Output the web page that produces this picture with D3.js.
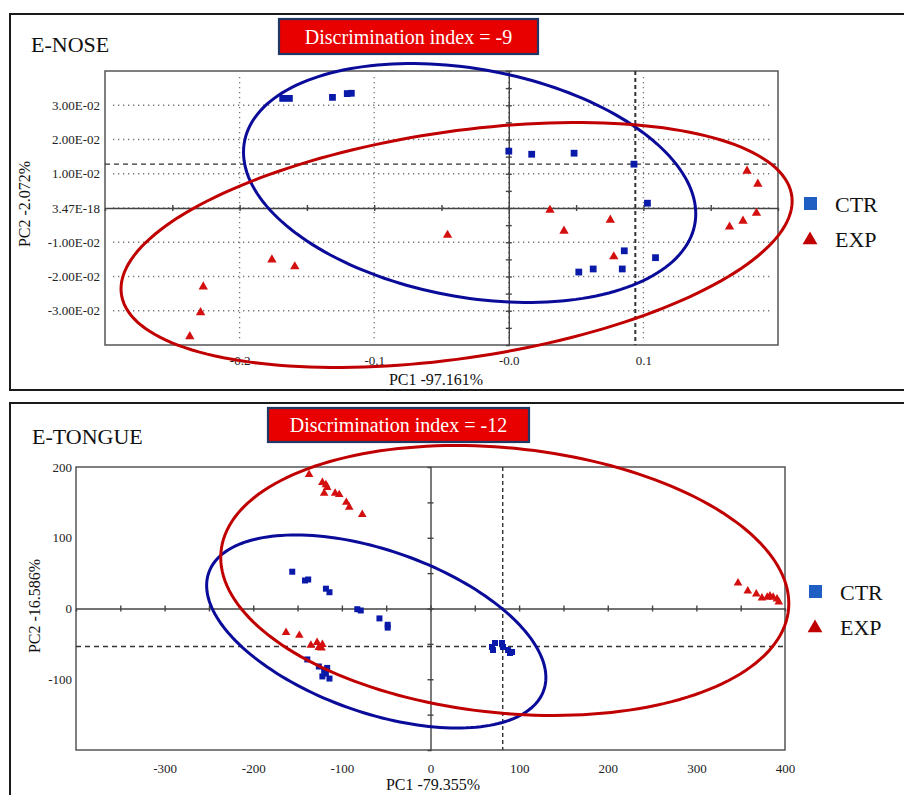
<!DOCTYPE html>
<html>
<head>
<meta charset="utf-8">
<script src="https://cdn.jsdelivr.net/npm/d3@7"></script>
<style>
  body { margin: 0; background: #fff; }
  svg { display: block; font-family: "Liberation Serif", "Times New Roman", serif; }
</style>
</head>
<body>
<div id="chart"></div>
<script>
// ---- E-NOSE data (PC1, PC2) ----
var noseCtr = [
  [-0.168, 0.0320], [-0.163, 0.0320], [-0.131, 0.0323], [-0.120, 0.0334], [-0.117, 0.0335],
  [0.000, 0.0166], [0.017, 0.0157], [0.0485, 0.0160], [0.093, 0.0128],
  [0.103, 0.0014], [0.0858, -0.0125], [0.109, -0.0145],
  [0.052, -0.0187], [0.0627, -0.0178], [0.0843, -0.0178]
];
var noseExp = [
  [-0.227, -0.0230], [-0.229, -0.0305], [-0.237, -0.0375],
  [-0.176, -0.0151], [-0.159, -0.0171], [-0.0455, -0.0079],
  [0.0306, -0.0006], [0.041, -0.0067], [0.0754, -0.0035], [0.078, -0.0142],
  [0.164, -0.0055], [0.174, -0.0038], [0.184, -0.0015], [0.177, 0.0108], [0.185, 0.0070]
];
// confidence ellipses: centre x, centre y, conjugate half-axis A (dx, dy), B (dx, dy)
var noseCtrEllipse = [-0.0291, 0.0073, 0.168, -0.0090, 0.0, 0.0337];
var noseExpEllipse = [-0.0388, -0.0108, 0.2493, 0.0128, 0.0, 0.0334];
var noseRefLines = [0.094, 0.0128];   // dashed x, dashed y
var noseXTicks = [-0.2, -0.1, 0.0, 0.1];
var noseXTickLabels = ["-0.2", "-0.1", "-0.0", "0.1"];
var noseYTicks = [0.03, 0.02, 0.01, 0, -0.01, -0.02, -0.03];
var noseYTickLabels = ["3.00E-02", "2.00E-02", "1.00E-02", "3.47E-18", "-1.00E-02", "-2.00E-02", "-3.00E-02"];

// ---- E-TONGUE data (PC1, PC2) ----
var tongueCtr = [
  [-156, 52], [-141.6, 39.6], [-138, 41], [-118, 28], [-114, 23],
  [-82.6, -1], [-78.7, -2.8], [-57.6, -14], [-48.3, -23], [-48.3, -27],
  [-139, -72], [-126, -82], [-120, -88], [-116.6, -84], [-122, -96], [-114, -99], [-118, -92],
  [69.4, -54.4], [70.5, -58.7], [72.8, -48.8], [80.7, -48.8], [81.8, -54.4],
  [87.5, -58.7], [89.7, -62.9], [92, -61.5]
];
var tongueExp = [
  [-137, 189.5], [-122, 178], [-118, 175], [-116.6, 171], [-120, 163],
  [-107.6, 163], [-103, 161], [-95, 150], [-91.7, 143], [-77, 133],
  [-163, -34], [-148, -38],
  [-135, -52], [-128, -48], [-126, -55], [-122, -51], [-123, -56],
  [347, 36], [358, 24.7], [367.6, 20.5], [374, 14.8], [380, 16],
  [383, 17.7], [386.6, 16], [391, 13.4], [393, 9.2]
];
var tongueCtrEllipse = [-61.2, -32.5, 191.4, -65, 0, 120];
var tongueExpEllipse = [83.8, 39.6, 320.5, -32.5, 0, 188];
var tongueRefLines = [81.5, -53.7];
var tongueXTicks = [-300, -200, -100, 0, 100, 200, 300, 400];
var tongueYTicks = [200, 100, 0, -100];

var width = 904;
var height = 795;

var blueDot = "#0a1aa8";
var redDot = "#d40f0f";
var blueRing = "#0b0b9a";
var redRing = "#c00000";

var svg = d3.select("#chart").append("svg")
  .attr("width", width)
  .attr("height", height);

function ellipsePoints(e) {
  var pts = [];
  for (var i = 0; i < 180; i++) {
    var t = i / 180 * 2 * Math.PI;
    pts.push([e[0] + e[2] * Math.cos(t) + e[4] * Math.sin(t),
              e[1] + e[3] * Math.cos(t) + e[5] * Math.sin(t)]);
  }
  return pts;
}

function drawPanel(p) {
  var g = svg.append("g");

  // outer frame
  g.append("rect")
    .attr("x", 10).attr("y", p.frameTop)
    .attr("width", 1000).attr("height", p.frameHeight)
    .attr("fill", "none").attr("stroke", "#1a1a1a").attr("stroke-width", 2);

  var x = d3.scaleLinear().domain(p.xDomain).range([p.left, p.right]);
  var y = d3.scaleLinear().domain(p.yDomain).range([p.bottom, p.top]);

  // dotted grid
  if (p.grid) {
    g.append("g").selectAll("line").data(p.yTicks).enter().append("line")
      .attr("x1", p.left + 8).attr("x2", p.right - 6)
      .attr("y1", d => y(d)).attr("y2", d => y(d))
      .attr("stroke", "#777").attr("stroke-width", 1.3).attr("stroke-dasharray", "1.3,3.7");
    g.append("g").selectAll("line").data(p.xTicks).enter().append("line")
      .attr("x1", d => x(d)).attr("x2", d => x(d))
      .attr("y1", p.top + 6).attr("y2", p.bottom - 4)
      .attr("stroke", "#777").attr("stroke-width", 1.3).attr("stroke-dasharray", "1.3,3.7");
  }

  // plot box
  g.append("rect")
    .attr("x", p.left).attr("y", p.top)
    .attr("width", p.right - p.left).attr("height", p.bottom - p.top)
    .attr("fill", "none").attr("stroke", "#555").attr("stroke-width", 1.5);

  // zero axes with crossing ticks
  var hAxis = g.append("g")
    .attr("transform", "translate(0," + y(0) + ")")
    .call(d3.axisBottom(x).tickValues(p.xMinor).tickSize(3).tickFormat(""));
  var vAxis = g.append("g")
    .attr("transform", "translate(" + x(0) + ",0)")
    .call(d3.axisLeft(y).tickValues(p.yMinor).tickSize(3).tickFormat(""));
  [hAxis, vAxis].forEach(function(a) {
    a.select(".domain").attr("stroke", "#444").attr("stroke-width", 1.4);
    a.selectAll(".tick line").attr("stroke", "#444").attr("stroke-width", 1.4);
  });
  hAxis.selectAll(".tick line").attr("y1", -3);
  vAxis.selectAll(".tick line").attr("x1", 3);

  // dashed reference lines
  g.append("line")
    .attr("x1", x(p.ref[0])).attr("x2", x(p.ref[0]))
    .attr("y1", p.top).attr("y2", p.bottom)
    .attr("stroke", "#333").attr("stroke-width", p.refWidth).attr("stroke-dasharray", "4,3");
  g.append("line")
    .attr("x1", p.left).attr("x2", p.right)
    .attr("y1", y(p.ref[1])).attr("y2", y(p.ref[1]))
    .attr("stroke", "#333").attr("stroke-width", 1.3).attr("stroke-dasharray", "5,4");

  // tick labels
  var xLab = g.append("g")
    .attr("transform", "translate(0," + p.bottom + ")")
    .call(d3.axisBottom(x).tickValues(p.xTicks).tickSize(0).tickPadding(p.xPad)
      .tickFormat(function(d, i) { return p.xLabels ? p.xLabels[i] : d; }));
  var yLab = g.append("g")
    .attr("transform", "translate(" + p.left + ",0)")
    .call(d3.axisLeft(y).tickValues(p.yTicks).tickSize(0).tickPadding(p.yPad)
      .tickFormat(function(d, i) { return p.yLabels ? p.yLabels[i] : d; }));
  [xLab, yLab].forEach(function(a) {
    a.select(".domain").remove();
    a.selectAll("text").attr("font-family", "Liberation Serif").attr("font-size", 13).attr("fill", "#222");
  });

  // markers
  var sq = d3.symbol().type(d3.symbolSquare).size(p.sqSize);
  var tri = d3.symbol().type(d3.symbolTriangle).size(p.triSize);
  g.append("g").selectAll("path").data(p.exp).enter().append("path")
    .attr("d", tri)
    .attr("transform", d => "translate(" + x(d[0]) + "," + y(d[1]) + ")")
    .attr("fill", redDot);
  g.append("g").selectAll("path").data(p.ctr).enter().append("path")
    .attr("d", sq)
    .attr("transform", d => "translate(" + x(d[0]) + "," + y(d[1]) + ")")
    .attr("fill", blueDot);

  // ellipses
  var line = d3.line().x(d => x(d[0])).y(d => y(d[1])).curve(d3.curveLinearClosed);
  g.append("path").attr("d", line(ellipsePoints(p.ctrEllipse)))
    .attr("fill", "none").attr("stroke", blueRing).attr("stroke-width", 3);
  g.append("path").attr("d", line(ellipsePoints(p.expEllipse)))
    .attr("fill", "none").attr("stroke", redRing).attr("stroke-width", 3);

  // title
  g.append("text").attr("x", p.titleX).attr("y", p.titleY)
    .attr("font-size", 22).attr("fill", "#111").text(p.title);

  // discrimination index box
  g.append("rect")
    .attr("x", p.box[0]).attr("y", p.box[1]).attr("width", p.box[2]).attr("height", p.box[3])
    .attr("fill", "#e80000").attr("stroke", "#1f3864").attr("stroke-width", 2.2);
  g.append("text")
    .attr("x", p.box[0] + p.box[2] / 2).attr("y", p.box[1] + p.box[3] / 2 + 7)
    .attr("text-anchor", "middle").attr("font-size", 20).attr("fill", "#fff")
    .text(p.boxText);

  // axis titles
  g.append("text").attr("x", p.xTitle[0]).attr("y", p.xTitle[1])
    .attr("text-anchor", "middle").attr("font-size", 16).attr("fill", "#111").text(p.xTitleText);
  g.append("text")
    .attr("transform", "translate(" + p.yTitle[0] + "," + p.yTitle[1] + ") rotate(-90)")
    .attr("text-anchor", "middle").attr("font-size", 16).attr("fill", "#111").text(p.yTitleText);

  // legend
  var lg = g.append("g").attr("transform", "translate(" + p.legend[0] + "," + p.legend[1] + ")");
  lg.append("rect").attr("x", -6).attr("y", -7).attr("width", 13).attr("height", 13)
    .attr("fill", "#1f5fc4");
  lg.append("text").attr("x", 25).attr("y", 8).attr("font-size", 22).attr("fill", "#111").text("CTR");
  lg.append("path").attr("d", d3.symbol().type(d3.symbolTriangle).size(95)())
    .attr("transform", "translate(0," + (p.legendGap + 1) + ")")
    .attr("fill", redRing);
  lg.append("text").attr("x", 25).attr("y", p.legendGap + 8).attr("font-size", 22).attr("fill", "#111").text("EXP");
}

drawPanel({
  frameTop: 14, frameHeight: 376,
  left: 105, right: 778, top: 71, bottom: 345,
  xDomain: [-0.3, 0.2], yDomain: [-0.04, 0.04],
  xTicks: noseXTicks, xLabels: noseXTickLabels,
  yTicks: noseYTicks, yLabels: noseYTickLabels,
  xMinor: d3.range(-0.25, 0.2, 0.05), yMinor: d3.range(-0.035, 0.04, 0.005),
  grid: true, ref: noseRefLines, refWidth: 2,
  xPad: 11, yPad: 5,
  ctr: noseCtr, exp: noseExp,
  ctrEllipse: noseCtrEllipse, expEllipse: noseExpEllipse,
  sqSize: 46, triSize: 38,
  title: "E-NOSE", titleX: 31, titleY: 52,
  box: [279, 19, 259, 35], boxText: "Discrimination index = -9",
  xTitle: [436, 385], xTitleText: "PC1 -97.161%",
  yTitle: [30, 204], yTitleText: "PC2 -2.072%",
  legend: [810, 204], legendGap: 35
});

drawPanel({
  frameTop: 403, frameHeight: 500,
  left: 76, right: 785, top: 467, bottom: 750,
  xDomain: [-400, 400], yDomain: [-200, 200],
  xTicks: tongueXTicks, yTicks: tongueYTicks,
  xMinor: d3.range(-350, 400, 50), yMinor: d3.range(-150, 200, 50),
  grid: false, ref: tongueRefLines, refWidth: 1.4,
  xPad: 14, yPad: 4,
  ctr: tongueCtr, exp: tongueExp,
  ctrEllipse: tongueCtrEllipse, expEllipse: tongueExpEllipse,
  sqSize: 36, triSize: 32,
  title: "E-TONGUE", titleX: 32, titleY: 444,
  box: [268, 408, 261, 34], boxText: "Discrimination index = -12",
  xTitle: [433, 790], xTitleText: "PC1 -79.355%",
  yTitle: [40, 606], yTitleText: "PC2 -16.586%",
  legend: [815, 592], legendGap: 35
});
</script>
</body>
</html>
